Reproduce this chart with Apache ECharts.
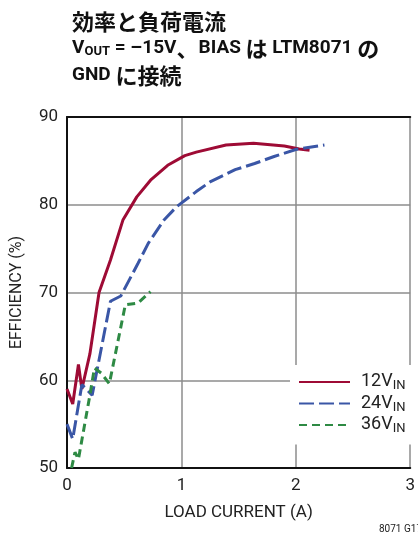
<!DOCTYPE html>
<html>
<head>
<meta charset="utf-8">
<script src="https://cdn.jsdelivr.net/npm/echarts@6/dist/echarts.min.js"></script>
<style>html,body{margin:0;padding:0;background:#fff;}#c{width:418px;height:536px;}</style>
</head>
<body>
<div id="c"></div>
<script>
// Data (x: load current A, y: efficiency %)
const xTicks = [0, 1, 2, 3];
const yTicks = [50, 60, 70, 80, 90];
const seriesNames = ['12V', '24V', '36V'];
const eff12 = [[0.0,59.0],[0.05,57.3],[0.10,61.8],[0.13,59.0],[0.20,63.0],[0.28,70.0],[0.38,73.7],[0.49,78.3],[0.61,80.9],[0.73,82.8],[0.88,84.5],[1.03,85.6],[1.13,86.0],[1.39,86.8],[1.63,87.0],[1.90,86.7],[2.03,86.35],[2.12,86.2]];
const eff24 = [[0.0,55.0],[0.05,53.3],[0.13,59.5],[0.22,58.3],[0.38,69.0],[0.47,69.6],[0.62,73.3],[0.71,75.6],[0.85,78.3],[0.96,79.8],[1.13,81.5],[1.25,82.6],[1.47,84.0],[1.64,84.7],[1.81,85.5],[2.0,86.3],[2.25,86.8]];
const eff36 = [[0.04,50.0],[0.07,51.8],[0.10,51.0],[0.20,58.3],[0.24,61.4],[0.30,60.8],[0.37,59.6],[0.51,68.6],[0.62,68.8],[0.73,70.1]];

const FONT = "Roboto, 'Noto Sans CJK JP', sans-serif";
const CJK = "'Noto Sans CJK JP', sans-serif";
const chart = echarts.init(document.getElementById('c'), null, {renderer: 'canvas'});
const colors = ['#9e0b35', '#3a56a6', '#2e8a44'];

chart.setOption({
  animation: false,
  title: {
    left: 67, top: 3,
    text: '{c|効率と負荷電流}\n{a|V}{s|OUT}{a| = –15V}{c|、}{a|BIAS }{c|は}{a| LTM8071 }{c|の}\n{a|GND }{c|に接続}',
    textStyle: {
      rich: {
        a: {fontFamily: FONT, fontWeight: 'bold', fontSize: 19, color: '#111', lineHeight: 27},
        c: {fontFamily: CJK, fontWeight: 'bold', fontSize: 22, color: '#111', lineHeight: 27},
        s: {fontFamily: FONT, fontWeight: 'bold', fontSize: 13, color: '#111', lineHeight: 27, padding: [6, 0, 0, 0]}
      }
    }
  },
  grid: {left: 67, top: 117, width: 352.5, height: 351, containLabel: false},
  xAxis: [{
    type: 'value', min: 0, max: 3, interval: 1,
    name: 'LOAD CURRENT (A)', nameLocation: 'middle', nameGap: 36,
    nameTextStyle: {fontFamily: FONT, fontSize: 17, color: '#222'},
    axisLine: {show: true, onZero: false, lineStyle: {color: '#111', width: 2}},
    axisTick: {show: false},
    axisLabel: {fontFamily: FONT, fontSize: 17, color: '#222', margin: 9,
      formatter: v => xTicks.includes(v) ? String(v) : ''},
    splitLine: {show: true, lineStyle: {color: '#8c8c8c', width: 1.5}}
  }, {
    type: 'value', min: 0, max: 3, interval: 1, position: 'top',
    axisLine: {show: true, onZero: false, lineStyle: {color: '#111', width: 2}},
    axisTick: {show: false}, axisLabel: {show: false}, splitLine: {show: false}
  }],
  yAxis: {
    type: 'value', min: 50, max: 90, interval: 10,
    name: 'EFFICIENCY (%)', nameLocation: 'middle', nameGap: 42, nameRotate: 90,
    nameTextStyle: {fontFamily: FONT, fontSize: 16, color: '#222'},
    axisLine: {show: true, onZero: false, lineStyle: {color: '#111', width: 2}},
    axisTick: {show: false},
    axisLabel: {fontFamily: FONT, fontSize: 17, color: '#222', margin: 9,
      formatter: v => yTicks.includes(v) ? String(v) : ''},
    splitLine: {show: true, lineStyle: {color: '#8c8c8c', width: 1.5}}
  },
  legend: {
    orient: 'vertical', left: 290, top: 365,
    backgroundColor: '#fff', padding: [8, 16, 9, 8], itemGap: 2,
    itemWidth: 51, itemHeight: 18,
    itemStyle: {opacity: 0, borderWidth: 0},
    data: seriesNames,
    formatter: n => '{a|' + n + '}{s|IN}',
    textStyle: {
      rich: {
        a: {fontFamily: FONT, fontSize: 18, color: '#222', padding: [0, 0, 0, 6]},
        s: {fontFamily: FONT, fontSize: 13, color: '#222', padding: [8, 0, 0, 0]}
      }
    }
  },
  series: [
    {name: seriesNames[0], type: 'line', data: eff12, symbol: 'none', color: colors[0],
      lineStyle: {color: colors[0], width: 3}},
    {name: seriesNames[1], type: 'line', data: eff24, symbol: 'none', color: colors[1],
      lineStyle: {color: colors[1], width: 3, type: [15, 5]}},
    {name: seriesNames[2], type: 'line', data: eff36, symbol: 'none', color: colors[2],
      lineStyle: {color: colors[2], width: 3, type: [8, 5]}}
  ],
  graphic: [{
    type: 'text', left: 379, top: 524,
    style: {text: '8071 G17', fontFamily: FONT, fontSize: 10, fill: '#222'}
  }]
});
</script>
</body>
</html>
